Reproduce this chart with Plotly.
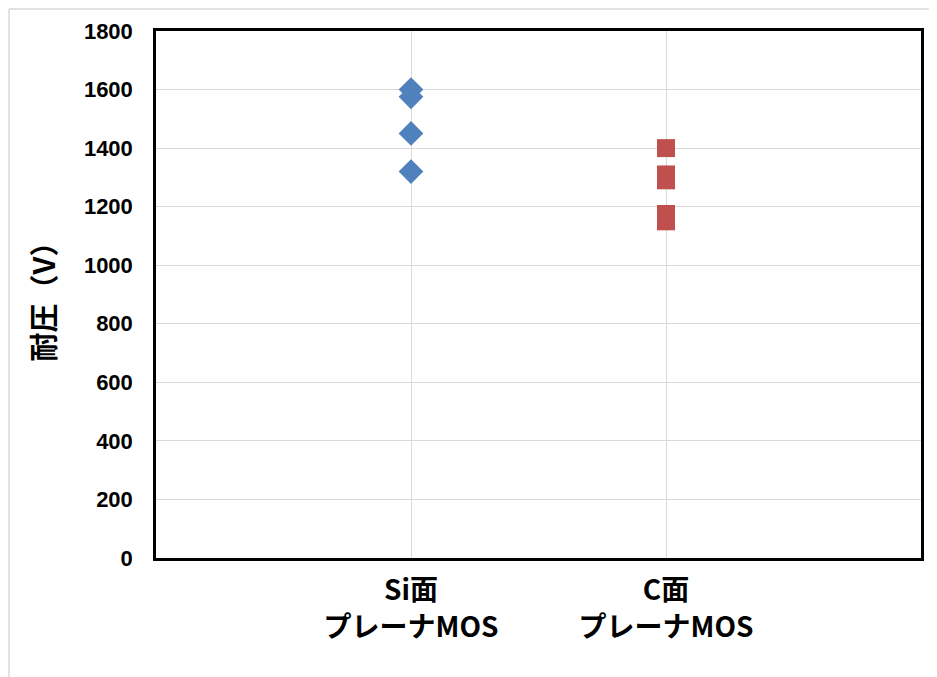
import plotly.graph_objects as go

categories = ["Si面<br>プレーナMOS", "C面<br>プレーナMOS"]
si_values = [1600, 1575, 1450, 1320]
c_values = [1400, 1310, 1290, 1175, 1150]
y_ticks = [0, 200, 400, 600, 800, 1000, 1200, 1400, 1600, 1800]

fig = go.Figure()
fig.add_trace(go.Scatter(
    x=[1] * len(si_values), y=si_values, mode="markers",
    marker=dict(symbol="diamond", size=19, color="#4F81BD"),
    showlegend=False,
))
fig.add_trace(go.Scatter(
    x=[2] * len(c_values), y=c_values, mode="markers",
    marker=dict(symbol="square", size=18, color="#C0504D"),
    showlegend=False,
))

# page body has an 8px margin; figure is offset accordingly
L, T, PW, PH = 148, 23, 765, 527
fig.update_layout(
    width=L + PW + 16, height=T + PH + 119,
    margin=dict(l=L, r=16, t=T, b=119),
    paper_bgcolor="white", plot_bgcolor="white",
    font=dict(family="Liberation Sans, Arial, sans-serif", color="black"),
    xaxis=dict(
        range=[0, 3], tickvals=[1, 2], ticktext=categories,
        showgrid=True, gridcolor="#D9D9D9", gridwidth=1,
        showline=True, linecolor="black", linewidth=2.5, mirror=True,
        ticks="", zeroline=False,
        tickfont=dict(family="Noto Sans CJK JP", size=28, color="black", weight="bold"),
        ticklabelstandoff=6,
    ),
    yaxis=dict(
        range=[0, 1800], tickvals=y_ticks,
        showgrid=True, gridcolor="#D9D9D9", gridwidth=1,
        showline=True, linecolor="black", linewidth=2.5, mirror=True,
        ticks="", zeroline=False,
        tickfont=dict(family="Liberation Sans, Arial", size=22, color="black", weight="bold"),
        ticklabelstandoff=16,
        title=dict(text="耐圧（V）", font=dict(family="Noto Sans CJK JP", size=29, color="black", weight="bold"), standoff=20),
    ),
    shapes=[
        dict(type="line", xref="paper", yref="paper", x0=(9 - 156) / PW, x1=(9 - 156) / PW,
             y0=(558 - 9) / PH, y1=(558 - 690) / PH, line=dict(color="#D9D9D9", width=1.5)),
        dict(type="line", xref="paper", yref="paper", x0=(9 - 156) / PW, x1=(950 - 156) / PW,
             y0=(558 - 9) / PH, y1=(558 - 9) / PH, line=dict(color="#D9D9D9", width=1.5)),
    ],
)

fig.write_html("out.html")
